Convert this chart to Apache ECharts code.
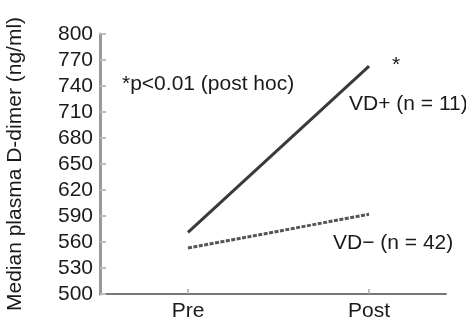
<!DOCTYPE html>
<html><head><meta charset="utf-8">
<script src="https://cdn.jsdelivr.net/npm/echarts@6/dist/echarts.min.js"></script>
<style>html,body{margin:0;padding:0;background:#fff;}#c{width:466px;height:322px;}</style>
</head><body><div id="c"></div>
<script>
const categories = ['Pre', 'Post'];
const categoryPos = [1, 2];
const vdPlus = [571, 763];
const vdMinus = [553, 592];
const yTicks = [500, 530, 560, 590, 620, 650, 680, 710, 740, 770, 800];
const yTitle = 'Median plasma D-dimer (ng/ml)';
const noteText = '*p<0.01 (post hoc)';
const plusLabel = 'VD+ (n = 11)';
const minusLabel = 'VD\u2212 (n = 42)';

const FONT = 'Liberation Sans';
const FS = 21;
const TXT = '#1a1a1a';
const chart = echarts.init(document.getElementById('c'));
chart.setOption({
  animation: false,
  backgroundColor: '#fff',
  grid: {left: 100, right: 20, top: 34, bottom: 28, outerBoundsMode: 'none', containLabel: false},
  xAxis: {
    type: 'value', min: 0.514, max: 2.425,
    axisLine: {lineStyle: {color: '#777', width: 2}},
    axisTick: {inside: true, length: 5, customValues: categoryPos, lineStyle: {color: '#aaa', width: 1.5}},
    axisLabel: {customValues: categoryPos, formatter: v => categories[categoryPos.indexOf(v)] || '',
      color: TXT, fontFamily: FONT, fontSize: FS, margin: 7},
    splitLine: {show: false}
  },
  yAxis: {
    type: 'value', min: 500, max: 800,
    name: yTitle, nameLocation: 'middle', nameGap: 74,
    nameTextStyle: {color: TXT, fontFamily: FONT, fontSize: FS},
    axisLine: {show: true, lineStyle: {color: '#999', width: 3}},
    axisTick: {show: true, inside: true, length: 6, customValues: yTicks, lineStyle: {color: '#bbb', width: 2}},
    axisLabel: {customValues: yTicks, color: TXT, fontFamily: FONT, fontSize: FS, margin: 7, padding: [3, 0, 0, 0]},
    splitLine: {show: false}
  },
  series: [
    {type: 'line', data: categoryPos.map((x, i) => [x, vdPlus[i]]), symbol: 'none',
      lineStyle: {color: '#3a3a3a', width: 3}},
    {type: 'line', data: categoryPos.map((x, i) => [x, vdMinus[i]]), symbol: 'none',
      lineStyle: {color: '#555', width: 3, type: [4, 1.5]}}
  ],
  graphic: [
    {type: 'text', left: 122, top: 74, style: {text: noteText, fill: TXT, font: FS + 'px "' + FONT + '"'}},
    {type: 'text', left: 392, top: 55, style: {text: '*', fill: TXT, font: FS + 'px "' + FONT + '"'}},
    {type: 'text', left: 349, top: 94, style: {text: plusLabel, fill: TXT, font: FS + 'px "' + FONT + '"'}},
    {type: 'text', left: 333, top: 233, style: {text: minusLabel, fill: TXT, font: FS + 'px "' + FONT + '"'}}
  ]
});
</script></body></html>
